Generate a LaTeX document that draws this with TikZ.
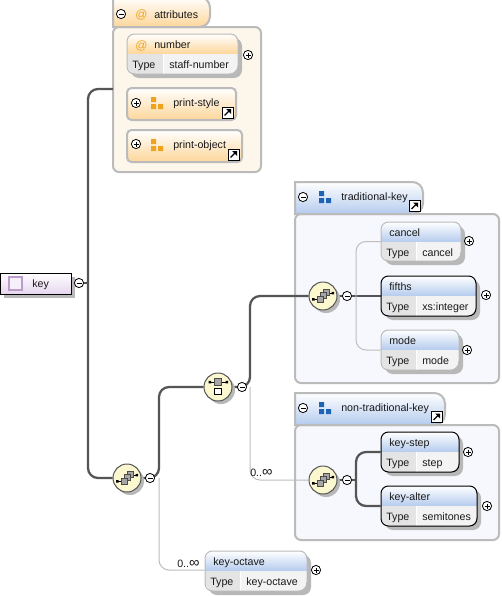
\documentclass[tikz,border=0pt]{standalone}
\usepackage{fontspec}
\setmainfont{Liberation Sans}
\usetikzlibrary{calc}
\pgfdeclarelayer{grp}
\pgfdeclarelayer{wire}
\pgfsetlayers{grp,wire,main}
\definecolor{hdrblue}{HTML}{B4CBEE}
\definecolor{bodyblue}{HTML}{F6F8FD}
\definecolor{hdrorange}{HTML}{FDD69A}
\definecolor{bodyorange}{HTML}{FDF6EA}
\definecolor{iconblue}{HTML}{1F64B4}
\definecolor{iconorange}{HTML}{EFA31D}
\definecolor{framegray}{HTML}{BBBBBB}
\definecolor{wiredark}{HTML}{555555}
\definecolor{wirelight}{HTML}{BDBDBD}
\definecolor{shadowgray}{HTML}{B8B8B8}
\definecolor{typegray}{HTML}{E4E4E4}
\definecolor{valgray}{HTML}{F3F3F3}
\definecolor{compfill}{HTML}{FBF7CF}
\definecolor{rootlilac}{HTML}{E6D6EE}
\definecolor{rooticon}{HTML}{BC9CCB}
\tikzset{
  x=0.75pt,y=-0.75pt,
  lbl/.style={font=\fontsize{8}{9.6}\selectfont,text=black!90,inner sep=0pt,anchor=base west},
  atsign/.style={font=\fontsize{9}{10}\selectfont,text=iconorange,inner sep=0pt,anchor=base west},
  thick wire/.style={draw=wiredark,line width=1.7pt,rounded corners=7.5pt},
  thin wire/.style={draw=wirelight,line width=0.75pt,rounded corners=7.5pt},
  toggle/.style={circle,draw=black,fill=white,line width=0.6pt,minimum size=6.9pt,inner sep=0pt},
  comp/.style={circle,draw=wiredark,line width=0.75pt,fill=compfill,minimum size=21pt,inner sep=0pt},
  refbox/.style={draw=framegray,line width=1.5pt,rounded corners=3.4pt,inner sep=0pt,top color=white,bottom color=hdrorange},
  groupbody/.style={draw=framegray,line width=1.5pt,rounded corners=4.5pt,inner sep=0pt},
  iconsq/.style={draw=black!70,fill=black!35,line width=0.5pt},
}
\newcommand{\plusat}[3]{\node[toggle] (#1) at (#2,#3) {};
  \draw[line width=0.55pt] (#2-2.5,#3) -- (#2+2.5,#3) (#2,#3-2.5) -- (#2,#3+2.5);}
\newcommand{\minusat}[3]{\node[toggle] (#1) at (#2,#3) {};
  \draw[line width=0.55pt] (#2-2.5,#3) -- (#2+2.5,#3);}
\def\elemhdr{hdrblue}
\def\namex{8}
% element box: name x1 y1 x2 y2 cellx label type bordercolor
\newcommand{\elembox}[9]{%
  \fill[shadowgray,rounded corners=6] (#2+4,#3+4) rectangle (#4+4,#5+4);
  \begin{scope}
  \clip[rounded corners=7.5] (#2,#3) rectangle (#4,#5);
  \shade[top color=white,bottom color=\elemhdr] (#2,#3) rectangle (#4,#3+20);
  \fill[typegray] (#2,#3+20) rectangle (#6,#5);
  \fill[valgray] (#6,#3+20) rectangle (#4,#5);
  \draw[white,line width=0.75pt] (#6,#3+20) -- (#6,#5);
  \end{scope}
  \node[draw=#9,line width=0.75pt,rounded corners=5.6pt,inner sep=0pt,
    minimum width={(#4-#2)*0.75pt},minimum height={(#5-#3)*0.75pt}] (#1) at ({(#2+#4)/2},{(#3+#5)/2}) {};
  \node[lbl] (#1-name) at (#2+\namex,#3+14) {#7};
  \node[lbl] (#1-typek) at (#2+5,#3+34) {Type};
  \node[lbl] (#1-typev) at (#6+6,#3+34) {#8};
}
% group: name x1 ytab x2tab ybody x2 ybot hdrcolor bodycolor
\newcommand{\groupbox}[9]{%
  \begin{pgfonlayer}{grp}
  \node[groupbody,fill=#9,minimum width={(#6-#2)*0.75pt},minimum height={(#7-#5)*0.75pt}] (#1) at ({(#2+#6)/2},{(#5+#7)/2}) {};
  \shade[top color=white,bottom color=#8,draw=framegray,line width=1.5pt]
     (#2,#5) -- (#2,#3) [rounded corners=8] -- (#4,#3) -- (#4,#5) [sharp corners] -- cycle;
  \end{pgfonlayer}
}
% reference box: name x1 y1 x2 y2
\newcommand{\refitem}[5]{%
  \node[refbox,minimum width={(#4-#2)*0.75pt},minimum height={(#5-#3)*0.75pt}] (#1) at ({(#2+#4)/2},{(#3+#5)/2}) {};}
\newcommand{\squares}[3]{%
  \fill[#3] (#1,#2) rectangle +(5,5) (#1,#2+7) rectangle +(5,5) (#1+7,#2+7) rectangle +(5,5);}
\newcommand{\linkmark}[2]{%
  \draw[black,fill=white,line width=0.75pt] (#1,#2) rectangle +(11,11);
  \draw[black,line width=1pt] (#1+2.5,#2+8.5) -- (#1+7,#2+4);
  \fill[black] (#1+4,#2+2) -- (#1+9,#2+2) -- (#1+9,#2+7) -- cycle;}
\newcommand{\seqicon}[2]{%
  \draw[black,line width=0.6pt] (#1-10,#2+3) -- (#1-6,#2+3) (#1+6,#2-3) -- (#1+10,#2-3);
  \fill[black] (#1-11,#2+2) rectangle +(2.5,2.5) (#1+8.5,#2-4.2) rectangle +(2.5,2.5);
  \draw[iconsq] (#1,#2-6.5) rectangle +(6,6);
  \draw[iconsq] (#1-3,#2-3.5) rectangle +(6,6);
  \draw[iconsq] (#1-6,#2) rectangle +(6,6);}
\newcommand{\choiceicon}[2]{%
  \draw[black,line width=0.6pt] (#1-8,#2-5) -- (#1+8,#2-5);
  \fill[black] (#1-9.5,#2-6.2) rectangle +(2.5,2.5) (#1+7.5,#2-6.2) rectangle +(2.5,2.5);
  \draw[iconsq] (#1-3.5,#2-8.5) rectangle +(7,6.5);
  \draw[black,fill=white,line width=0.5pt] (#1-3.2,#2+1) rectangle +(6.4,6.4);}
\newcommand{\compnode}[3]{%
  \fill[shadowgray] (#2+3,#3+3) circle[radius=14];
  \node[comp] (#1) at (#2,#3) {};}
\begin{document}
\begin{tikzpicture}
\useasboundingbox (0,0) rectangle (502,596);
\begin{pgfonlayer}{grp}
\fill[white] (0,0) rectangle (502,596);
\end{pgfonlayer}

% ---- wire joints
\coordinate (jroot) at (88,283);
\coordinate (jseq) at (159,478);
\coordinate (jchoice) at (250,387);
\coordinate (jtk) at (356,296);
\coordinate (jntk) at (356,480);
\coordinate (attrsIn) at (113,89);

% ---- groups
\groupbox{attrs}{113}{-3}{210}{27}{261}{172}{hdrorange}{bodyorange}
\minusat{attrsT}{121}{14}
\node[atsign] (attrsA) at (135,18) {@};
\node[lbl] (attrsL) at (154,18) {attributes};

\groupbox{tkey}{295}{182}{423}{214}{499}{383}{hdrblue}{bodyblue}
\minusat{tkeyT}{303}{197}
\squares{319}{191}{iconblue}
\node[lbl] (tkeyL) at (341,200) {traditional-key};
\linkmark{409}{200.5}

\groupbox{nkey}{295}{393}{445}{425}{499}{540}{hdrblue}{bodyblue}
\minusat{nkeyT}{303}{408}
\squares{319}{402}{iconblue}
\node[lbl] (nkeyL) at (341,411) {non-traditional-key};
\linkmark{431}{411.5}

% ---- attribute children
\def\elemhdr{hdrorange}\def\namex{27}
\elembox{number}{127}{34}{238}{74}{163}{number}{staff-number}{framegray}
\def\elemhdr{hdrblue}\def\namex{8}
\node[atsign] (numA) at (135,49) {@};
\plusat{numberP}{248}{55}

\refitem{pstyle}{127}{88}{236}{120}
\plusat{pstyleP}{136}{103}
\squares{151}{97}{iconorange}
\node[lbl] (pstyleL) at (173,106) {print-style};
\linkmark{222}{107}

\refitem{pobject}{127}{130}{242}{162}
\plusat{pobjectP}{136}{144}
\squares{151}{139}{iconorange}
\node[lbl] (pobjectL) at (173,148) {print-object};
\linkmark{228}{149}

% ---- traditional key children
\elembox{cancel}{381}{222}{461}{261}{416}{cancel}{cancel}{framegray}
\plusat{cancelP}{469}{241}
\elembox{fifths}{381}{276}{476}{316}{416}{fifths}{xs:integer}{black}
\plusat{fifthsP}{486}{295}
\elembox{mode}{381}{330}{459}{370}{416}{mode}{mode}{framegray}
\plusat{modeP}{467}{350}

% ---- non traditional key children
\elembox{keystep}{381}{432}{459}{472}{416}{key-step}{step}{black}
\plusat{keystepP}{468}{452}
\elembox{keyalter}{381}{486}{477}{526}{416}{key-alter}{semitones}{black}
\plusat{keyalterP}{487}{506}

% ---- key-octave
\elembox{keyoctave}{205}{551}{307}{591}{240}{key-octave}{key-octave}{framegray}
\plusat{keyoctaveP}{316}{570}

% ---- compositors
\compnode{seqmain}{127}{478}\seqicon{127}{478}
\minusat{seqmainM}{150}{478}
\compnode{choice}{218}{387}\choiceicon{218}{387}
\minusat{choiceM}{242}{387}
\compnode{seqtk}{323}{296}\seqicon{323}{296}
\minusat{seqtkM}{347}{296}
\compnode{seqntk}{323}{480}\seqicon{323}{480}
\minusat{seqntkM}{347}{480}

% ---- root
\fill[shadowgray] (4,277) rectangle (75,298);
\node[draw=black,line width=0.75pt,inner sep=0pt,top color=white,bottom color=rootlilac,minimum width={71*0.75pt},minimum height={21*0.75pt}] (root) at (35.5,283.5) {};
\draw[rooticon,fill=rootlilac!35,line width=0.9pt] (9,277) rectangle (22,290);
\node[lbl] (rootL) at (32,287) {key};
\minusat{rootM}{79}{283}

% ---- occurrences
\node[lbl] (occA) at (250,476) {0..{\fontsize{11}{11}\selectfont ∞}};
\node[lbl] (occB) at (177,567) {0..{\fontsize{11}{11}\selectfont ∞}};

% ---- wires, drawn beneath the nodes
\begin{pgfonlayer}{wire}
\draw[thick wire] (root) -- (rootM);
\draw[thick wire] (rootM) -- (jroot);
\draw[thick wire] (attrsIn) -- (jroot |- attrsIn) -- (jroot |- seqmain) -- (seqmain);
\draw[thick wire] (seqmain) -- (jseq) -- (jseq |- choice) -- (choice);
\draw[thick wire] (choice) -- (jchoice) -- (jchoice |- seqtk) -- (seqtk);
\draw[thin wire] (jchoice) -- (jchoice |- seqntk) -- (seqntk);
\draw[thin wire] (jseq) -- (jseq |- keyoctaveP) -- (keyoctave.west |- keyoctaveP);
\draw[thick wire] (seqtk) -- (fifths);
\draw[thin wire] (cancel.west) -- (jtk |- cancel.west) -- (jtk |- mode.west) -- (mode.west);
\draw[thick wire] (seqntk) -- (jntk);
\draw[thick wire] (keystep.west) -- (jntk |- keystep.west) -- (jntk |- keyalter.west) -- (keyalter.west);
\end{pgfonlayer}
\end{tikzpicture}
\end{document}
